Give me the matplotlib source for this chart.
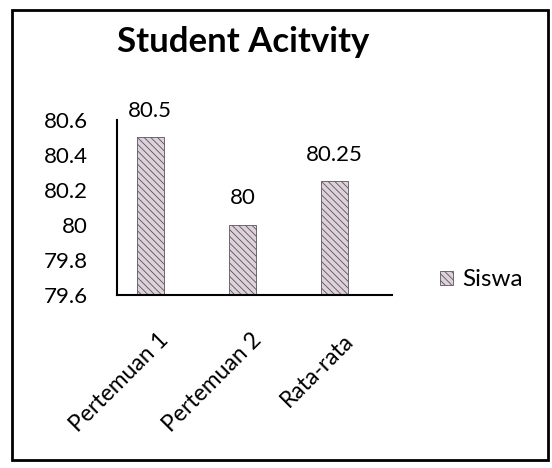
import matplotlib
matplotlib.use("Agg")
import matplotlib.pyplot as plt
from matplotlib.patches import Rectangle
from matplotlib.transforms import ScaledTranslation

categories = ["Pertemuan 1", "Pertemuan 2", "Rata-rata"]
siswa = [80.5, 80, 80.25]
value_labels = ["80.5", "80", "80.25"]
y_ticks = [79.6, 79.8, 80, 80.2, 80.4, 80.6]
y_tick_labels = ["79.6", "79.8", "80", "80.2", "80.4", "80.6"]

plt.rcParams["font.family"] = ["Lato", "DejaVu Sans"]
plt.rcParams["hatch.linewidth"] = 0.6

fig = plt.figure(figsize=(5.52, 4.68), dpi=100)
fig.patch.set_facecolor("white")

# chart frame
fig.patches.append(Rectangle((12 / 552, 1 - 460 / 468), (548 - 12) / 552, (460 - 10) / 468,
                             transform=fig.transFigure, fill=False,
                             edgecolor="black", linewidth=2))

ax = fig.add_axes([117 / 552, 1 - 295 / 468, (392 - 117) / 552, (295 - 120) / 468])
x = list(range(len(categories)))
bars = ax.bar(x, siswa, width=0.29, bottom=0,
              color="#ddd1da", edgecolor="#5a5460", linewidth=0.6,
              hatch="\\\\\\\\\\", label="Siswa")

for xi, v, txt in zip(x, siswa, value_labels):
    ax.annotate(txt, (xi, v), xytext=(0, 12), textcoords="offset points",
                ha="center", va="bottom", fontsize=16)

ax.set_ylim(79.6, 80.6)
ax.set_xlim(-0.36, 2.62)
ax.set_yticks(y_ticks)
ax.set_yticklabels(y_tick_labels, fontsize=16)
ax.set_xticks(x)
ax.set_xticklabels(categories, fontsize=16.5, rotation=45, ha="right",
                   rotation_mode="anchor")
ax.tick_params(axis="y", length=0, pad=21)
ax.tick_params(axis="x", length=0, pad=25)
for lbl in ax.get_xticklabels():
    lbl.set_transform(lbl.get_transform() + ScaledTranslation(0.08, 0, fig.dpi_scale_trans))

for side in ["top", "right"]:
    ax.spines[side].set_visible(False)
for side in ["left", "bottom"]:
    ax.spines[side].set_linewidth(1.5)
    ax.spines[side].set_color("black")

fig.text(243 / 552, 1 - 42 / 468, "Student Acitvity", ha="center", va="center",
         fontsize=25, fontweight="bold")

ax.legend(loc="center left", bbox_to_anchor=(440 / 552, 1 - 280 / 468),
          bbox_transform=fig.transFigure, frameon=False, fontsize=17.5,
          handlelength=0.55, handleheight=0.55, handletextpad=0.35,
          borderpad=0, borderaxespad=0)

fig.savefig("out.png", dpi=100)
